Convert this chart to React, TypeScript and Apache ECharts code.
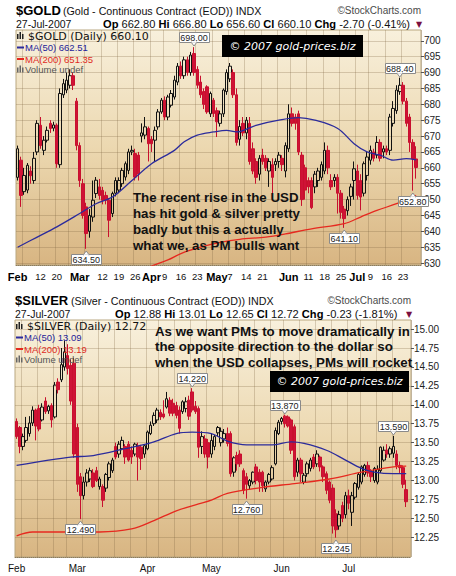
import React, { useEffect, useRef } from "react";
import * as echarts from "echarts";

// ---------- dates (trading days, Feb-Jul 2007) ----------
const febDays = [1, 2, 5, 6, 7, 8, 9, 12, 13, 14, 15, 16, 20, 21, 22, 23, 26, 27, 28];
const marDays = [1, 2, 5, 6, 7, 8, 9, 12, 13, 14, 15, 16, 19, 20, 21, 22, 23, 26, 27, 28, 29, 30];
const aprDays = [2, 3, 4, 5, 9, 10, 11, 12, 13, 16, 17, 18, 19, 20, 23, 24, 25, 26, 27, 30];
const mayDays = [1, 2, 3, 4, 7, 8, 9, 10, 11, 14, 15, 16, 17, 18, 21, 22, 23, 24, 25, 29, 30, 31];
const junDays = [1, 4, 5, 6, 7, 8, 11, 12, 13, 14, 15, 18, 19, 20, 21, 22, 25, 26, 27, 28, 29];
const julDays = [2, 3, 5, 6, 9, 10, 11, 12, 13, 16, 17, 18, 19, 20, 23, 24, 25, 26, 27];
const monthNames = ["Feb", "Mar", "Apr", "May", "Jun", "Jul"];
const monthDays = [febDays, marDays, aprDays, mayDays, junDays, julDays];
const dates: string[] = [];
monthDays.forEach((days, m) => days.forEach((d) => dates.push(monthNames[m] + " " + d)));

const weekStartDates = ["Feb 5", "Feb 12", "Feb 20", "Feb 26", "Mar 5", "Mar 12", "Mar 19", "Mar 26", "Apr 2", "Apr 9", "Apr 16", "Apr 23", "Apr 30", "May 7", "May 14", "May 21", "May 29", "Jun 4", "Jun 11", "Jun 18", "Jun 25", "Jul 2", "Jul 9", "Jul 16", "Jul 23"];
const goldTickDates = ["Feb 1", "Feb 12", "Feb 20", "Mar 1", "Mar 12", "Mar 19", "Mar 26", "Apr 2", "Apr 9", "Apr 16", "Apr 23", "May 1", "May 7", "May 14", "May 21", "Jun 1", "Jun 11", "Jun 18", "Jun 25", "Jul 2", "Jul 9", "Jul 16", "Jul 23"];
const goldTickLabels = ["Feb", "12", "20", "Mar", "12", "19", "26", "Apr", "9", "16", "23", "May", "7", "14", "21", "Jun", "11", "18", "25", "Jul", "9", "16", "23"];
const silverTickDates = ["Feb 1", "Mar 1", "Apr 2", "May 1", "Jun 1", "Jul 2"];
const silverTickLabels = ["Feb", "Mar", "Apr", "May", "Jun", "Jul"];
const goldYTicks = [630, 635, 640, 645, 650, 655, 660, 665, 670, 675, 680, 685, 690, 695, 700];
const silverYTicks = [12.25, 12.5, 12.75, 13.0, 13.25, 13.5, 13.75, 14.0, 14.25, 14.5, 14.75, 15.0];

// ---------- GOLD daily OHLC ----------
const goldOpen = [657, 662.4, 652.5, 653, 659, 656, 665, 673.4, 665.5, 668.7, 674, 672.5, 673.4, 661, 683, 684.5, 686, 689, 681, 667, 655, 647.7, 640, 644.5, 651.9, 654, 652.9, 651.3, 649.8, 645.6, 652, 653, 655, 657.1, 659.2, 665, 664.5, 664, 670, 670.3, 672.4, 669, 668.7, 672.9, 677.6, 681.3, 676, 679.7, 682.3, 687, 692, 689, 694, 690, 696, 691, 687, 684, 685.5, 677, 681.3, 678, 674, 677, 684, 688, 690, 683, 669, 674, 671, 674, 666, 662, 658, 664, 663, 659, 661, 661, 662, 663, 659, 666, 677, 676, 677, 664, 660, 656, 656, 654, 656, 657, 659, 665.5, 656, 656, 657, 652, 647, 646.5, 651, 656, 659, 656, 652, 657.6, 662.4, 665, 664, 668, 665, 666, 665.5, 674, 678, 684, 686, 681, 676, 668, 662.8];
const goldHigh = [667, 663.5, 660, 661.5, 660.5, 665, 675, 676, 670, 673, 675, 674.5, 674, 685, 688, 690, 691, 690, 682, 668, 656.5, 649, 647, 656, 657.1, 656.5, 654, 652.5, 650.5, 652.5, 657, 657, 660, 662, 666, 667, 666, 665, 674, 676, 673, 670, 673, 678.5, 682, 682.5, 683, 684.5, 689, 693, 693.5, 695, 695, 696.5, 698, 692, 689, 685, 686, 684, 682, 679, 678, 685, 691, 693, 691, 685, 675, 676, 676, 676, 668, 663, 664, 666, 664, 663, 663, 663, 665, 664, 668, 680, 679, 677, 678, 665, 661, 657, 657, 659, 660, 662, 668, 667, 658, 658, 658, 653, 648, 651, 655, 662, 661, 658, 662, 665, 667, 666, 670, 669, 667, 667, 677, 681, 686, 688.4, 687, 682, 677, 669, 666.8];
const goldLow = [656, 647.7, 651.5, 652, 655, 655, 664, 666, 664, 668, 671, 671.5, 660, 660, 682, 683.5, 685, 684.5, 665.5, 654, 644, 634.5, 638, 643, 650.5, 650, 648.5, 648.5, 638.2, 644.5, 651, 652, 654, 656, 658, 664, 656, 656, 668, 669, 662, 665, 662, 672, 677, 675, 675, 679, 681.5, 686, 688, 688, 689, 689, 689, 685, 682, 678.5, 677, 676, 676, 669.7, 673, 676, 683, 687, 682, 667, 667, 670, 669, 661, 658, 655, 656, 661, 659, 654, 652, 659, 660, 659, 657, 665, 673, 672, 664, 648, 650, 652, 647, 652, 654, 656, 658, 658, 653, 654, 645.6, 644, 641.1, 645, 648, 650, 650, 646.6, 651, 656, 661, 662, 663, 662, 663, 664, 664, 673, 677, 683, 680, 673, 665, 652.8, 656.6];
const goldClose = [666, 651.3, 657.6, 660.8, 657.5, 663, 674, 667, 668.7, 671.8, 672.4, 673.5, 661.3, 683.4, 686.5, 687.6, 689, 686, 667, 656, 645, 639.3, 645, 649.8, 656.1, 651.3, 649.8, 649.8, 643.5, 651.9, 656, 656, 659.2, 661.3, 665, 665.5, 657.1, 658, 671, 672.9, 667.6, 667.6, 671.8, 677.6, 681.3, 676, 682.3, 683.4, 687.6, 692, 689, 694, 690, 695.5, 690, 686, 683, 680, 677.6, 683.4, 677.1, 674.5, 677, 684.5, 690, 692, 683, 668, 673, 671, 675, 662, 659, 657, 663, 662, 660, 662, 657, 662, 664, 661, 667, 677, 674, 674, 665, 650, 653, 654, 647.5, 658, 659, 661, 665.5, 660, 654, 657, 652, 646, 644, 650, 654, 659.7, 651.3, 650.8, 661.3, 663.4, 665.5, 663, 668, 663, 666, 665, 676, 678.7, 684.5, 686, 681, 674, 668, 662.8, 660.1];
const goldChgPct = -0.41;
const goldMa50Idx = [0, 6, 12, 19, 24, 29, 35, 41, 48, 51, 55, 60, 64, 67, 73, 80, 86, 91, 98, 103, 107, 111, 115, 119, 122];
const goldMa50Val = [635, 638.2, 641.4, 645.6, 648.7, 650.8, 656, 661.3, 665.5, 668.2, 670.3, 671.3, 671.8, 671.3, 673.4, 675, 675.8, 675, 672.4, 667.6, 665, 664, 662.4, 662.9, 662.51];
const goldMa200Idx = [38, 46, 50, 56, 62, 68, 76, 82, 90, 100, 105, 110, 116, 122];
const goldMa200Val = [628, 631, 633, 635, 636.5, 637.5, 638.2, 639.2, 640.8, 642.4, 644.5, 646.6, 648.7, 651.35];
const goldMarkIdx = [54, 21, 100, 117, 121];
const goldMarkKind = ["high", "low", "low", "high", "low"];

// ---------- SILVER daily OHLC ----------
const silverOpen = [13.78, 13.7, 13.45, 13.53, 13.62, 13.76, 13.93, 13.95, 13.8, 14.05, 13.92, 13.99, 13.84, 14.3, 14.33, 14.5, 14.65, 14.52, 14.55, 13.7, 13.05, 12.8, 12.98, 13.02, 13.1, 13.13, 12.92, 12.92, 12.9, 13.04, 13.13, 13.45, 13.35, 13.42, 13.45, 13.48, 13.4, 13.35, 13.45, 13.44, 13.35, 13.42, 13.62, 13.75, 13.8, 13.9, 13.88, 13.97, 14.06, 14.02, 13.99, 13.93, 13.91, 13.95, 14.06, 14.17, 13.98, 13.95, 13.45, 13.55, 13.5, 13.35, 13.45, 13.63, 13.5, 13.55, 13.62, 13.62, 13.11, 13.33, 13.35, 13.13, 13.05, 12.93, 12.98, 13.18, 13.11, 13.11, 12.89, 12.98, 13.02, 13.22, 13.62, 13.78, 13.85, 13.84, 13.8, 13.71, 13.11, 13.27, 12.98, 13.09, 13.16, 13.31, 13.22, 13.31, 13.18, 13.09, 12.98, 12.9, 12.56, 12.4, 12.67, 12.55, 12.8, 12.58, 12.78, 12.91, 12.98, 13.08, 13.2, 13.12, 13.0, 12.98, 13.13, 13.27, 13.4, 13.35, 13.36, 13.35, 13.2, 13.17, 12.88];
const silverHigh = [13.82, 13.72, 13.62, 13.84, 13.85, 13.98, 13.95, 14.0, 14.02, 14.1, 14.0, 14.02, 14.3, 14.35, 14.75, 14.85, 14.8, 14.6, 14.62, 13.75, 13.1, 13.05, 13.15, 13.17, 13.15, 13.18, 13.05, 12.95, 13.1, 13.25, 13.3, 13.5, 13.52, 13.58, 13.48, 13.52, 13.45, 13.5, 13.5, 13.47, 13.48, 13.66, 13.78, 13.9, 13.96, 13.94, 14.06, 14.17, 14.1, 14.08, 14.04, 13.98, 14.06, 14.1, 14.12, 14.22, 14.05, 13.98, 13.65, 13.6, 13.55, 13.62, 13.6, 13.72, 13.7, 13.68, 13.7, 13.65, 13.32, 13.38, 13.4, 13.16, 13.1, 13.02, 13.12, 13.22, 13.15, 13.13, 13.0, 13.1, 13.2, 13.7, 13.8, 13.84, 13.87, 13.86, 13.82, 13.74, 13.3, 13.3, 13.1, 13.25, 13.3, 13.35, 13.4, 13.33, 13.2, 13.12, 13.0, 12.95, 12.62, 12.6, 12.72, 12.85, 12.88, 12.85, 12.98, 13.1, 13.2, 13.22, 13.25, 13.15, 13.18, 13.2, 13.45, 13.45, 13.48, 13.45, 13.59, 13.4, 13.25, 13.2, 13.01];
const silverLow = [13.55, 13.36, 13.4, 13.5, 13.58, 13.72, 13.53, 13.65, 13.78, 13.88, 13.88, 13.7, 13.82, 14.15, 14.3, 14.45, 14.4, 14.0, 13.3, 12.85, 12.49, 12.75, 12.92, 12.98, 12.9, 12.98, 12.88, 12.65, 12.85, 13.0, 13.1, 13.28, 13.3, 13.4, 13.22, 13.25, 13.22, 13.32, 13.0, 13.14, 13.3, 13.4, 13.6, 13.72, 13.76, 13.8, 13.82, 13.95, 13.85, 13.85, 13.82, 13.62, 13.88, 13.9, 13.8, 13.9, 13.88, 13.3, 13.35, 13.3, 13.16, 13.3, 13.4, 13.58, 13.45, 13.5, 13.45, 13.05, 13.05, 13.13, 13.18, 12.82, 12.76, 12.88, 12.95, 12.95, 12.85, 12.85, 12.85, 12.95, 13.0, 13.2, 13.6, 13.74, 13.7, 13.7, 13.35, 13.0, 13.05, 12.98, 12.95, 13.05, 13.12, 13.15, 13.18, 13.12, 12.98, 12.82, 12.7, 12.3, 12.245, 12.35, 12.45, 12.5, 12.62, 12.4, 12.75, 12.88, 12.95, 13.05, 13.05, 12.98, 12.97, 12.95, 13.1, 13.25, 13.3, 13.3, 13.3, 13.15, 13.1, 12.9, 12.65];
const silverClose = [13.58, 13.45, 13.58, 13.7, 13.76, 13.93, 13.72, 13.68, 13.97, 13.91, 13.98, 13.8, 14.26, 14.2, 14.53, 14.7, 14.48, 14.05, 13.35, 12.95, 12.8, 12.98, 13.1, 13.13, 12.92, 13.0, 13.02, 12.74, 13.08, 13.22, 13.27, 13.31, 13.48, 13.53, 13.31, 13.27, 13.31, 13.48, 13.31, 13.29, 13.46, 13.64, 13.73, 13.86, 13.93, 13.84, 13.84, 14.08, 13.89, 13.89, 13.86, 13.69, 14.04, 14.04, 13.85, 13.93, 13.91, 13.44, 13.58, 13.35, 13.31, 13.53, 13.58, 13.7, 13.65, 13.62, 13.49, 13.09, 13.3, 13.22, 13.22, 12.87, 12.95, 13.0, 13.11, 13.0, 12.98, 12.93, 12.98, 13.08, 13.17, 13.66, 13.77, 13.82, 13.75, 13.72, 13.4, 13.05, 13.27, 13.09, 13.07, 13.22, 13.27, 13.18, 13.35, 13.18, 13.05, 12.87, 12.74, 12.4, 12.35, 12.55, 12.5, 12.8, 12.7, 12.8, 12.96, 13.08, 13.18, 13.2, 13.1, 13.05, 13.16, 13.15, 13.44, 13.4, 13.35, 13.42, 13.45, 13.2, 13.17, 12.95, 12.72];
const silverChgPct = -1.81;
const silverMa50Idx = [0, 10, 17, 24, 34, 43, 50, 55, 61, 66, 72, 80, 86, 90, 97, 103, 108, 112, 118, 122];
const silverMa50Val = [13.2, 13.27, 13.31, 13.33, 13.42, 13.51, 13.62, 13.64, 13.62, 13.52, 13.47, 13.47, 13.51, 13.49, 13.4, 13.27, 13.16, 13.11, 13.09, 13.09];
const silverMa200Idx = [0, 5, 26, 36, 43, 50, 57, 61, 66, 77, 87, 98, 108, 118, 122];
const silverMa200Val = [12.27, 12.32, 12.32, 12.36, 12.47, 12.6, 12.69, 12.74, 12.83, 12.91, 12.96, 13.02, 13.11, 13.18, 13.19];
const silverMarkIdx = [55, 20, 72, 84, 100, 118];
const silverMarkKind = ["high", "low", "low", "high", "low", "high"];

// ---------- annotation texts ----------
const goldNote = ["The recent rise in the USD", "has hit gold & silver pretty", "badly but this a actually", "what we, as PM bulls want"];
const silverNote = ["As we want PMs to move dramatically in", "the opposite direction to the dollar so", "when the USD collapses, PMs will rocket"];
const copyright = "\u00a9 2007 gold-prices.biz";

const SANS = "'Liberation Sans', Arial, sans-serif";
const cats = [...dates, ""];

function sparse(idx: number[], val: number[]) {
  const arr: (number | null)[] = cats.map(() => null);
  idx.forEach((i, k) => (arr[i] = val[k]));
  return arr;
}

function plotBg() {
  return new echarts.graphic.LinearGradient(0, 0, 0, 1, [
    { offset: 0, color: "#f8f0dc" },
    { offset: 0.5, color: "#ecd8b0" },
    { offset: 1, color: "#d8b582" },
  ]);
}

const gridLineColor = "rgba(125,100,65,0.28)";

function xAxisFor(gridIndex: number, tickDates: string[], tickLabels: string[], big: boolean) {
  const labelMap = new Map<number, string>();
  tickDates.forEach((d, k) => labelMap.set(dates.indexOf(d), tickLabels[k]));
  const weekSet = new Set(weekStartDates.map((d) => dates.indexOf(d)));
  return {
    type: "category",
    gridIndex,
    data: cats,
    boundaryGap: true,
    axisLine: { show: true, lineStyle: { color: "#8d7c5c", type: "dotted", width: 1 } },
    axisTick: { show: false },
    splitLine: { show: true, interval: (i: number) => weekSet.has(i), lineStyle: { color: gridLineColor, width: 1 } },
    axisLabel: {
      interval: (i: number) => labelMap.has(i),
      formatter: (_v: string, i: number) => {
        const t = labelMap.get(i) || "";
        if (!big) return "{p|" + t + "}";
        return /^[A-Z]/.test(t) ? "{m|" + t + "}" : "{d|" + t + "}";
      },
      margin: 6,
      rich: {
        m: { fontFamily: SANS, fontWeight: "bold", fontSize: 11, color: "#000" },
        d: { fontFamily: SANS, fontSize: 9.5, color: "#111" },
        p: { fontFamily: SANS, fontSize: 10, color: "#111" },
      },
    },
  };
}

function yAxisFor(gridIndex: number, min: number, max: number, ticks: number[], dec: number) {
  return {
    type: "value",
    gridIndex,
    position: "right",
    min,
    max,
    axisLine: { show: false },
    axisTick: { show: true, length: 3, customValues: ticks, lineStyle: { color: "#555" } },
    axisLabel: { customValues: ticks, formatter: (v: number) => v.toFixed(dec), fontFamily: SANS, fontSize: 10, color: "#222", margin: 3 },
    splitLine: { show: true, lineStyle: { color: gridLineColor, width: 1 } },
  };
}

function candleSeries(ax: number, o: number[], h: number[], l: number[], c: number[]) {
  return {
    type: "candlestick",
    xAxisIndex: ax,
    yAxisIndex: ax,
    barWidth: 3,
    data: o.map((_, i) => [o[i], c[i], l[i], h[i]]),
    itemStyle: { color: "rgba(255,255,255,0)", color0: "#cf1236", borderColor: "#111", borderColor0: "#c8102e", borderWidth: 1 },
    z: 3,
  };
}

function lineSeries(ax: number, data: (number | null)[], color: string) {
  return {
    type: "line",
    xAxisIndex: ax,
    yAxisIndex: ax,
    data,
    connectNulls: true,
    smooth: 0.35,
    showSymbol: false,
    symbol: "none",
    clip: true,
    lineStyle: { color, width: 1.3 },
    z: 4,
  };
}

function buildOption() {
  return {
    animation: false,
    backgroundColor: "#ffffff",
    grid: [
      { left: 16, top: 30, width: 405, height: 235, show: true, backgroundColor: plotBg(), borderColor: "#b9a780", borderWidth: 1 },
      { left: 15, top: 320, width: 396, height: 237, show: true, backgroundColor: plotBg(), borderColor: "#b9a780", borderWidth: 1 },
    ],
    xAxis: [xAxisFor(0, goldTickDates, goldTickLabels, true), xAxisFor(1, silverTickDates, silverTickLabels, false)],
    yAxis: [yAxisFor(0, 629.4, 703.4, goldYTicks, 0), yAxisFor(1, 11.99, 15.12, silverYTicks, 2)],
    series: [
      lineSeries(0, sparse(goldMa200Idx, goldMa200Val), "#e6291f"),
      lineSeries(0, sparse(goldMa50Idx, goldMa50Val), "#2b2b9c"),
      candleSeries(0, goldOpen, goldHigh, goldLow, goldClose),
      lineSeries(1, sparse(silverMa200Idx, silverMa200Val), "#e6291f"),
      lineSeries(1, sparse(silverMa50Idx, silverMa50Val), "#2b2b9c"),
      candleSeries(1, silverOpen, silverHigh, silverLow, silverClose),
    ],
  };
}

function txt(x: number, y: number, text: string, opts: any = {}) {
  return {
    type: "text",
    x,
    y,
    z: opts.z || 70,
    style: {
      text,
      fill: opts.fill || "#111",
      fontSize: opts.size || 11,
      fontFamily: opts.family || SANS,
      fontWeight: opts.weight || "normal",
      fontStyle: opts.style || "normal",
      textAlign: opts.align || "left",
      textVerticalAlign: "middle",
      align: opts.align || "left",
      verticalAlign: "middle",
      rich: opts.rich,
    },
  };
}

function header(top: number, left: number, sym: string, subX: number, sub: string, opX: number, o: number[], h: number[], l: number[], c: number[], pct: number, rightX: number) {
  const n = c.length - 1;
  const chg = c[n] - c[n - 1];
  const f = (v: number) => v.toFixed(2);
  const line = "{b|Op} " + f(o[n]) + " {b|Hi} " + f(h[n]) + " {b|Lo} " + f(l[n]) + " {b|Cl} " + f(c[n]) + " {b|Chg} " + f(chg) + " (" + pct.toFixed(2) + "%)";
  const rich = { b: { fontFamily: SANS, fontWeight: "bold", fontSize: 11.1, fill: "#000", color: "#000" } };
  return [
    txt(left, top, sym, { size: 13, weight: "bold", fill: "#000" }),
    txt(subX, top + 0.5, sub, { size: 10.7, fill: "#111" }),
    txt(rightX, top, "\u00a9StockCharts.com", { size: 10, fill: "#4a4a4a", align: "right" }),
    txt(left, top + 13, "27-Jul-2007", { size: 10.5, fill: "#111" }),
    txt(opX, top + 13, line, { size: 11.1, fill: "#111", rich }),
    txt(rightX - 5, top + 13.5, "\u25bc", { size: 8, family: "'DejaVu Sans'", fill: "#7a1040" }),
  ];
}

function legend(top: number, left: number, first: string, ma50: string, ma200: string) {
  const els: any[] = [];
  const icon = (y: number, color: string) => {
    [0, 2.5, 5].forEach((dx, k) =>
      els.push({ type: "rect", z: 50, shape: { x: left + 1 + dx, y: y - 3 + (k === 1 ? -1 : 1), width: 1.5, height: k === 1 ? 7 : 5 }, style: { fill: color } })
    );
  };
  icon(top, "#222");
  els.push(txt(left + 12, top, first, { size: 11, family: "'DejaVu Sans', sans-serif", fill: "#111" }));
  els.push({ type: "line", z: 50, shape: { x1: left + 1, y1: top + 11.5, x2: left + 8, y2: top + 11.5 }, style: { stroke: "#2b2b9c", lineWidth: 2 } });
  els.push(txt(left + 9, top + 11.5, ma50, { size: 9.5, fill: "#23239a" }));
  els.push({ type: "line", z: 50, shape: { x1: left + 1, y1: top + 23, x2: left + 8, y2: top + 23 }, style: { stroke: "#e6291f", lineWidth: 2 } });
  els.push(txt(left + 9, top + 23, ma200, { size: 9.5, fill: "#e02a1e" }));
  icon(top + 33.5, "#666");
  els.push(txt(left + 9, top + 33.5, "Volume undef", { size: 9.5, fill: "#555" }));
  return els;
}

function marks(chart: any, gridIndex: number, idx: number[], kind: string[], h: number[], l: number[], dec: number) {
  const els: any[] = [];
  idx.forEach((i, k) => {
    const above = kind[k] === "high";
    const v = above ? h[i] : l[i];
    const [px, py] = chart.convertToPixel({ gridIndex }, [i, v]);
    const w = 30;
    const bh = 10;
    const by = Math.round(above ? py - 5 - bh : py + 5) + 0.5;
    els.push({ type: "rect", z: 80, shape: { x: Math.round(px - w / 2) + 0.5, y: by, width: w, height: bh }, style: { fill: "#fff", stroke: "#8a8a8a", lineWidth: 1 } });
    const ty = by + (above ? bh : 0);
    els.push({
      type: "polygon",
      z: 81,
      shape: { points: above ? [[px - 3, ty - 0.5], [px + 3, ty - 0.5], [px, ty + 3.5]] : [[px - 3, ty + 0.5], [px + 3, ty + 0.5], [px, ty - 3.5]] },
      style: { fill: "#fff", stroke: "#8a8a8a", lineWidth: 1 },
    });
    els.push({ type: "rect", z: 82, shape: { x: px - 2.4, y: above ? ty - 1.5 : ty, width: 4.8, height: 1.5 }, style: { fill: "#fff" } });
    els.push(txt(px, by + bh / 2 + 0.5, v.toFixed(dec), { size: 9, fill: "#222", align: "center", z: 90 }));
  });
  return els;
}

function buildGraphics(chart: any) {
  const els: any[] = [];
  els.push(...header(10.5, 16, "$GOLD", 63, "(Gold - Continuous Contract (EOD)) INDX", 103, goldOpen, goldHigh, goldLow, goldClose, goldChgPct, 421));
  els.push(...header(300.5, 15, "$SILVER", 71, "(Silver - Continuous Contract (EOD)) INDX", 115, silverOpen, silverHigh, silverLow, silverClose, silverChgPct, 411));
  const gn = goldClose.length - 1;
  const sn = silverClose.length - 1;
  els.push(...legend(36, 16, "$GOLD (Daily) " + goldClose[gn].toFixed(2), "MA(50) " + goldMa50Val[goldMa50Val.length - 1].toFixed(2), "MA(200) " + goldMa200Val[goldMa200Val.length - 1].toFixed(2)));
  els.push(...legend(326, 15, "$SILVER (Daily) " + silverClose[sn].toFixed(2), "MA(50) " + silverMa50Val[silverMa50Val.length - 1].toFixed(2), "MA(200) " + silverMa200Val[silverMa200Val.length - 1].toFixed(2)));
  // copyright boxes
  els.push({ type: "rect", z: 55, shape: { x: 222, y: 35, width: 141, height: 22 }, style: { fill: "#000" } });
  els.push(txt(292.5, 46, copyright, { size: 11, family: "'DejaVu Sans'", style: "italic", fill: "#fff", align: "center", z: 60 }));
  els.push({ type: "rect", z: 55, shape: { x: 270, y: 371, width: 139, height: 21 }, style: { fill: "#000" } });
  els.push(txt(339.5, 381.5, copyright, { size: 11, family: "'DejaVu Sans'", style: "italic", fill: "#fff", align: "center", z: 60 }));
  // comment texts
  goldNote.forEach((t, k) => els.push(txt(133, 197 + k * 16, t, { size: 13.3, weight: "bold", fill: "#111" })));
  silverNote.forEach((t, k) => els.push(txt(155, 331 + k * 15.5, t, { size: 13.3, weight: "bold", fill: "#111" })));
  // high / low callouts
  els.push(...marks(chart, 0, goldMarkIdx, goldMarkKind, goldHigh, goldLow, 2));
  els.push(...marks(chart, 1, silverMarkIdx, silverMarkKind, silverHigh, silverLow, 3));
  return els;
}

export default function App() {
  const ref = useRef<HTMLDivElement>(null);
  useEffect(() => {
    document.body.style.margin = "0";
    const chart = echarts.init(ref.current as HTMLDivElement, null, { renderer: "svg" });
    chart.setOption(buildOption() as any);
    chart.setOption({ graphic: buildGraphics(chart) } as any);
    return () => chart.dispose();
  }, []);
  return <div ref={ref} style={{ position: "absolute", left: 0, top: 0, width: 456, height: 576, background: "#fff" }} />;
}
